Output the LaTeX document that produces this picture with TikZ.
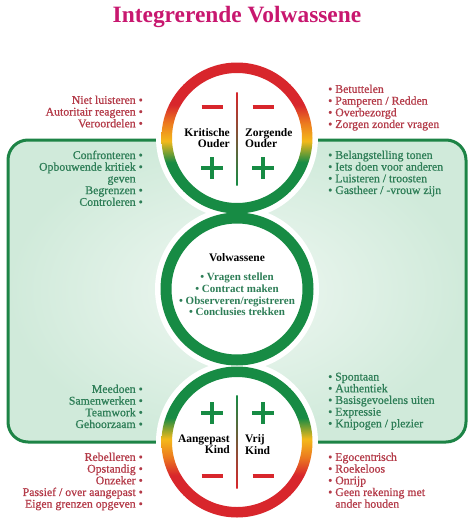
\documentclass[tikz,border=0pt]{standalone}
\usepackage{fontspec}
\usetikzlibrary{calc}
\setmainfont{Liberation Serif}
\newfontfamily\listfont[FakeBold=0.7]{Liberation Serif}
\definecolor{ringred}{HTML}{D8262C}
\definecolor{ringorange}{HTML}{EC7A1F}
\definecolor{ringyellow}{HTML}{F4B91A}
\definecolor{ringgreen}{HTML}{178B44}
\definecolor{titlemag}{HTML}{C8176F}
\definecolor{txtred}{HTML}{B43A48}
\definecolor{txtgreen}{HTML}{2E7E57}
\definecolor{panelline}{HTML}{1D8446}
\definecolor{panelin}{HTML}{F0F8F3}
\definecolor{panelout}{HTML}{D0EADA}
\pgfdeclareverticalshading{ringtop}{100bp}{color(0bp)=(ringgreen); color(42bp)=(ringgreen); color(49bp)=(ringyellow); color(55bp)=(ringorange); color(61bp)=(ringred); color(100bp)=(ringred)}
\pgfdeclareverticalshading{ringbot}{100bp}{color(0bp)=(ringred); color(39bp)=(ringred); color(45bp)=(ringorange); color(51bp)=(ringyellow); color(58bp)=(ringgreen); color(100bp)=(ringgreen)}
\tikzset{
  lst/.style={inner sep=0pt, font=\listfont\fontsize{11.8}{11.7}\selectfont},
  redr/.style={lst, text=txtred, align=right, anchor=north east},
  redl/.style={lst, text=txtred, align=left, anchor=north west},
  grnr/.style={lst, text=txtgreen, align=right, anchor=north east},
  grnl/.style={lst, text=txtgreen, align=left, anchor=north west},
  role/.style={inner sep=0pt, font=\fontsize{11.5}{11.5}\selectfont\bfseries, text=black},
  minussign/.style={draw=ringred, line width=3.4pt},
  plussign/.style={draw=ringgreen, line width=3.4pt},
  halo/.style={fill=white},
}
\begin{document}
\begin{tikzpicture}[x=1pt,y=-1pt]
\useasboundingbox (0,0) rectangle (474,530);
\fill[white] (0,0) rectangle (474,530);
% centres
\coordinate (ct) at (237,138);
\coordinate (cm) at (237,289);
\coordinate (cb) at (237,442);
% panel
\shade[inner color=panelin, outer color=panelout, rounded corners=20pt] (8,140) rectangle (466,442);
\draw[panelline, line width=3pt, rounded corners=20pt] (8,140) rectangle (466,442);
% halos
\fill[halo] (ct) circle (81);
\fill[halo] (cm) circle (82);
\fill[halo] (cb) circle (81);
% rings
\shade[shading=ringtop, even odd rule] (ct) circle (75.5) (ct) circle (65);
\fill[ringgreen, even odd rule] (cm) circle (76.5) (cm) circle (65.5);
\shade[shading=ringbot, even odd rule] (cb) circle (75.5) (cb) circle (65);
% dividers
\shade[top color=ringred, middle color=ringyellow, bottom color=ringgreen] (236.4,92) rectangle (237.6,185);
\shade[top color=ringgreen, middle color=ringyellow, bottom color=ringred] (236.4,395) rectangle (237.6,488);
% signs top
\coordinate (mt1) at (212,107); \coordinate (mt2) at (263,107);
\coordinate (pt1) at (212,168); \coordinate (pt2) at (263,168);
\draw[minussign] ($(mt1)+(-10.5,0)$) -- ($(mt1)+(10.5,0)$);
\draw[minussign] ($(mt2)+(-10.5,0)$) -- ($(mt2)+(10.5,0)$);
\draw[plussign] ($(pt1)+(-11,0)$) -- ($(pt1)+(11,0)$) ($(pt1)+(0,-11)$) -- ($(pt1)+(0,11)$);
\draw[plussign] ($(pt2)+(-11,0)$) -- ($(pt2)+(11,0)$) ($(pt2)+(0,-11)$) -- ($(pt2)+(0,11)$);
% signs bottom
\coordinate (pb1) at (212,413); \coordinate (pb2) at (263,413);
\coordinate (mb1) at (212,476); \coordinate (mb2) at (263,476);
\draw[plussign] ($(pb1)+(-11,0)$) -- ($(pb1)+(11,0)$) ($(pb1)+(0,-11)$) -- ($(pb1)+(0,11)$);
\draw[plussign] ($(pb2)+(-11,0)$) -- ($(pb2)+(11,0)$) ($(pb2)+(0,-11)$) -- ($(pb2)+(0,11)$);
\draw[minussign] ($(mb1)+(-10.5,0)$) -- ($(mb1)+(10.5,0)$);
\draw[minussign] ($(mb2)+(-10.5,0)$) -- ($(mb2)+(10.5,0)$);
% title
\node[text=titlemag, font=\fontsize{23.4}{26}\selectfont\bfseries] (title) at (237,17) {Integrerende Volwassene};
% role labels
\node[role, align=right, anchor=east] (ko) at (230,138) {Kritische\\Ouder};
\node[role, align=left, anchor=west] (zo) at (245,138) {Zorgende\\Ouder};
\node[role, align=right, anchor=east] (ak) at (230,444.5) {Aangepast\\Kind};
\node[role, align=left, anchor=west] (vk) at (245,444.5) {Vrij\\Kind};
\node[role] (vw) at (237,258) {Volwassene};
\node[lst, text=txtgreen, align=center, anchor=north, font=\fontsize{11}{11.7}\selectfont\bfseries] (vwl) at (237,273) {• Vragen stellen\\• Contract maken\\• Observeren/registreren\\• Conclusies trekken};
% lists
\node[redr] (l1) at (143,95.5) {Niet luisteren •\\Autoritair reageren •\\Veroordelen •};
\node[redl] (l2) at (328,84.5) {• Betuttelen\\• Pamperen / Redden\\• Overbezorgd\\• Zorgen zonder vragen};
\node[grnr] (l3) at (143,150.5) {Confronteren •\\Opbouwende kritiek •\\geven\hphantom{~•}\\Begrenzen •\\Controleren •};
\node[grnl] (l4) at (328,150.5) {• Belangstelling tonen\\• Iets doen voor anderen\\• Luisteren / troosten\\• Gastheer / -vrouw zijn};
\node[grnr] (l5) at (143,384.5) {Meedoen •\\Samenwerken •\\Teamwork •\\Gehoorzaam •};
\node[grnl] (l6) at (328,372.5) {• Spontaan\\• Authentiek\\• Basisgevoelens uiten\\• Expressie\\• Knipogen / plezier};
\node[redr] (l7) at (143,452.5) {Rebelleren •\\Opstandig •\\Onzeker •\\Passief / over aangepast •\\Eigen grenzen opgeven •};
\node[redl] (l8) at (328,452.5) {• Egocentrisch\\• Roekeloos\\• Onrijp\\• Geen rekening met\\\hphantom{•~}ander houden};
\end{tikzpicture}
\end{document}
